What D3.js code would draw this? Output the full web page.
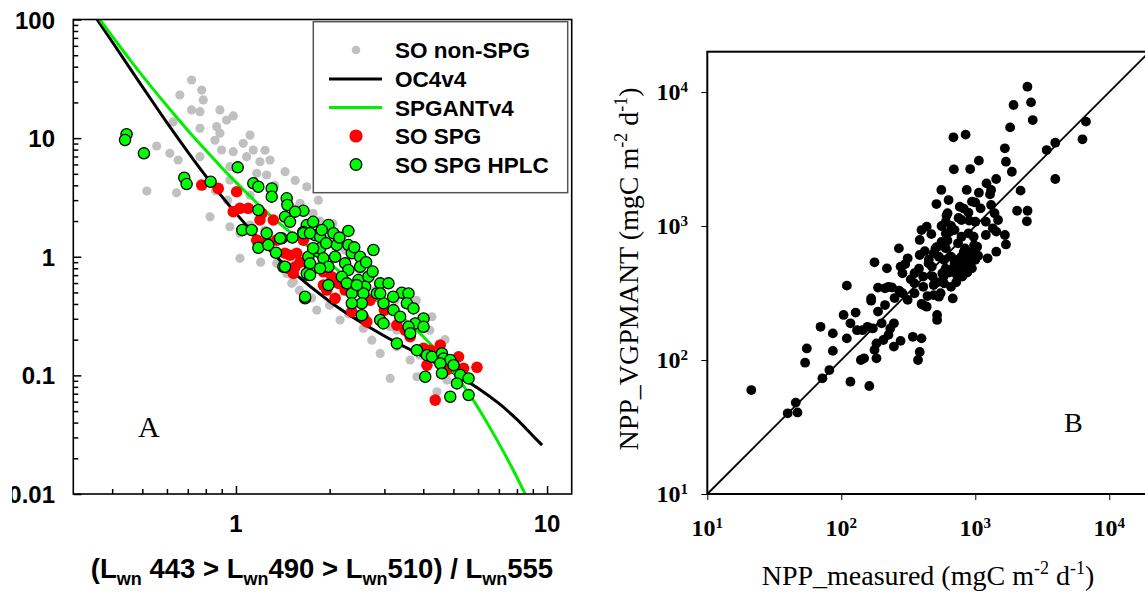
<!DOCTYPE html>
<html>
<head>
<meta charset="utf-8">
<script src="https://cdn.jsdelivr.net/npm/d3@7"></script>
<style>
body { margin: 0; background: #fff; }
svg { display: block; }
</style>
</head>
<body>
<svg id="chart" width="1145" height="595"></svg>
<script>
// ---- panel A data : band ratio vs chlorophyll ----
const soNonSpg = [
  [0.720,30.9],[0.776,25.4],[0.660,23.1],[0.785,21.0],[0.766,16.7],[0.720,17.3],[0.888,17.3],[0.980,15.4],
  [0.933,14.2],[0.867,12.5],[0.628,13.7],[0.766,12.1],[0.888,11.0],[0.556,8.58],[0.613,7.44],[0.652,6.54],
  [1.055,9.04],[1.137,7.94],[0.980,7.68],[0.899,7.94],[1.082,6.97],[1.194,6.32],[1.287,6.54],[0.766,6.97],
  [1.438,5.21],[0.956,5.74],[1.166,5.05],[1.255,4.89],[0.644,3.46],[0.825,2.17],[0.956,4.43],[1.030,1.58],
  [1.030,0.97],[0.956,1.79],[1.456,3.01],[1.607,2.82],[1.770,2.32],[1.492,2.17],[1.352,0.88],[1.456,0.724],
  [1.529,0.615],[1.689,3.89],[1.568,2.56],[1.668,1.79],[1.511,0.597],[1.819,0.355],[2.161,0.293],[2.568,0.249],
  [2.733,0.198],[2.908,0.153],[3.131,0.0943],[3.290,0.174],[3.631,0.1346],[3.816,0.0973],[4.426,0.0727],
  [4.265,0.312],[4.767,0.0913],[3.290,0.241],[3.131,0.257],[0.517,3.58],[0.856,9.6],[1.11,10.6],[1.24,7.9],
  [1.33,4.0],[1.55,4.4],[1.84,3.0],[1.86,2.0],[2.0,1.4],[2.24,1.14],[2.5,0.77],[2.8,0.52],[3.25,0.43],
  [3.8,0.43],[4.2,0.24],[4.7,0.2],[5.1,0.12],[3.9,0.148],[0.94,3.0],[0.86,3.6],[1.11,3.3],[1.11,1.85],
  [1.24,1.68],[1.2,0.9],[1.6,0.52],[2.0,0.39],[1.75,0.45],[2.3,0.33],[2.05,1.9],[2.2,1.5]
];

const soSpg = [
  [0.776,4.02],[0.877,3.77],[1.005,3.53],[0.980,2.40],[1.030,2.56],[1.095,2.56],[1.210,2.32],[1.194,2.04],
  [1.318,2.04],[1.166,1.38],[1.255,1.34],[1.352,1.38],[1.492,1.03],[1.549,0.823],[1.529,0.724],[1.647,1.38],
  [1.438,1.07],[1.568,1.07],[1.473,0.798],[1.910,0.747],[2.032,0.678],[2.135,0.597],[1.958,0.524],[2.083,0.446],
  [1.910,0.577],[2.357,0.344],[2.634,0.283],[2.568,0.312],[3.631,0.212],[4.007,0.169],[4.211,0.163],[4.110,0.122],
  [5.195,0.1435],[5.390,0.1146],[5.952,0.117],[4.370,0.0619],[4.767,0.111],[1.607,0.90],[1.796,0.80],
  [2.243,0.524],[2.70,0.43],[3.0,0.355],[3.29,0.265],[3.5,0.24],[4.536,0.18]
];

const soSpgHplc = [
  [0.445,10.8],[0.440,9.64],[0.506,7.44],[1.013,5.67],[0.682,4.64],[0.694,4.10],[0.829,4.29],[1.137,4.16],
  [1.180,3.89],[1.303,3.77],[1.303,3.21],[1.456,3.11],[1.463,2.73],[1.180,2.48],[1.647,2.44],[1.438,2.17],
  [1.492,1.97],[1.689,1.85],[1.647,1.62],[1.796,1.52],[1.048,1.68],[1.123,1.68],[1.255,1.58],[1.403,1.43],
  [1.518,1.45],[1.180,1.19],[1.270,1.255],[1.345,1.08],[1.420,0.823],[1.709,1.0],[1.730,0.823],[1.709,0.701],
  [1.668,0.446],[1.841,1.10],[1.549,2.40],[1.386,1.43],[1.647,1.58],[1.770,1.97],[1.730,1.58],[1.864,1.47],
  [1.982,1.85],[1.887,1.68],[2.057,1.58],[2.298,1.65],[2.109,1.255],[2.298,1.255],[1.864,1.18],[1.770,1.18],
  [1.910,0.97],[2.083,1.0],[2.357,1.07],[2.506,1.0],[2.766,1.14],[1.730,0.88],[1.689,0.724],[1.438,0.823],
  [1.982,0.823],[2.243,0.88],[2.298,0.773],[2.506,0.823],[1.864,0.798],[1.730,0.701],[1.982,0.577],[2.189,0.678],
  [2.271,0.597],[2.475,0.636],[2.665,0.678],[2.601,0.558],[2.908,0.597],[3.092,0.597],[2.357,0.491],[2.568,0.491],
  [2.837,0.491],[3.414,0.497],[3.586,0.491],[1.668,0.460],[2.446,0.577],[2.538,0.405],[2.357,0.405],[2.980,0.405],
  [2.908,0.491],[3.543,0.405],[3.208,0.355],[2.538,0.322],[2.908,0.293],[2.980,0.274],[3.371,0.312],[3.721,0.367],
  [4.007,0.302],[3.768,0.274],[4.007,0.257],[3.586,0.257],[3.631,0.226],[3.290,0.186],[3.816,0.163],[4.110,0.148],
  [4.265,0.1435],[4.593,0.153],[4.648,0.139],[4.885,0.1346],[5.006,0.122],[4.536,0.126],[5.260,0.1006],
  [5.594,0.0943],[4.058,0.0973],[4.593,0.104],[5.133,0.0856],[4.885,0.066],[5.594,0.0682],
  [2.15,1.45],[2.40,1.20],[2.62,0.90],[2.75,0.75],[3.20,0.46],[1.95,1.30]
];

// OC4v4 and SPGANTv4 curves, sampled along the drawn lines
const oc4Ratio = [0.356,0.4,0.5,0.6,0.7,0.8,1,1.25,1.5,2,2.5,3,4,5,6,7,8,9,9.64];
const oc4Chl   = [102,64.9,27.2,13.5,7.66,4.79,2.32,1.22,0.77,0.42,0.284,0.215,0.144,0.105,0.078,0.058,0.0426,0.031,0.0258];
const spgRatio = [0.365,0.408,0.459,0.529,0.613,0.711,0.789,0.888,0.990,1.093,1.2,1.39,2.0,2.84,3.5,4.3,5.0,5.74,6.2,6.9,7.7,8.5];
const spgChl   = [100,67.6,44.8,28.0,17.5,11.1,8.2,5.86,4.36,3.37,2.65,1.88,0.875,0.427,0.294,0.174,0.107,0.064,0.0464,0.0286,0.0168,0.01];

const ticksA_y = [100,10,1,0.1,0.01];
const ticksA_x = [1,10];

// ---- panel B data : measured vs modelled NPP ----
const nppPoints = [
  [2450,10960],[1930,8000],[2606,8375],[2685,6180],[1820,5445],[1663,3802],[1694,3020],[1875,2541],
  [3954,4188],[3412,3690],[6700,6012],[6310,4436],[3954,2244],[687,4592],[847,4808],[1064,3076],
  [692,2649],[916,2661],[1213,2080],[1432,2244],[1312,1858],[863,1858],[1064,1774],[1288,1722],
  [558,1858],[632,1563],[513,1459],[944,1521],[766,1393],[1312,1435],[2178,1837],[2051,1300],
  [2455,1300],[2427,1084],[1096,1355],[889,1259],[1393,1245],[789,1109],[621,1245],[603,1077],
  [434,989],[397,933],[1002,1077],[1199,1077],[1479,1109],[1352,961],[1199,857],[1435,908],
  [1663,857],[1694,729],[1435,643],[1236,574],[603,881],[700,933],[789,832],[889,881],
  [973,832],[743,743],[838,681],[1033,701],[385,787],[504,681],[603,681],[659,590],
  [789,590],[889,557],[944,483],[789,498],[743,470],[489,625],[448,526],[535,590],
  [585,557],[269,681],[313,574],[385,608],[474,498],[177,536],[219,483],[277,498],
  [286,444],[352,444],[409,419],[110,359],[188,347],[225,352],[239,348],[167,288],
  [286,315],[352,373],[568,444],[585,373],[489,363],[659,352],[551,315],[212,343],
  [167,277],[313,281],[409,352],[352,315],[397,262],[434,250],[489,305],[535,297],
  [679,288],[188,230],[212,257],[104,217],[128,226],[131,167],[157,177],[117,188],
  [110,145],[172,172],[200,188],[232,172],[247,188],[225,154],[206,141],[247,126],
  [277,139],[342,149],[397,145],[385,115],[374,100],[519,217],[519,199],[409,257],
  [70,177],[86.5,158],[86.5,117],[81.5,84.1],[72.3,73.0],[117,68.9],[55.3,122],[53.7,95.5],
  [45.7,48.1],[39.8,40.0],[47.1,40.6],[21.3,59.7],[162,64.0],[148,103],[177,119],[183,103],
  [140,100],[183,133],[144,167],
  [450,560],[520,700],[600,480],[420,650],[700,560],[560,760],[640,900],[480,420],
  [380,480],[330,400],[300,520],[250,290],[270,330],[660,1000],[750,1150],[900,1100],
  [820,1350],[1000,1500],[560,1000],[470,870],[620,780],[440,300],[520,380],[580,420],
  [610,1200],[720,380],[900,640],
  [850,520],[900,600],[700,520],[760,560],[820,640],[680,480],[950,650],[1000,560],
  [870,450],[730,430],[640,450],[800,420],[920,520],[980,720],[1050,600]
];
const ticksB = [10,100,1000,10000];

// ---------------------------------------------------------------
const svg = d3.select("#chart");
const sans = "'Liberation Sans', Arial, Helvetica, sans-serif";
const serif = "'Liberation Serif', 'Times New Roman', Times, serif";

// ===== panel A =====
const A = {left: 73.3, right: 571.7, top: 19.5, bottom: 494};
const xA = d3.scaleLog().domain([0.3, 12]).range([A.left, A.right]);
const yA = d3.scaleLog().domain([0.01, 100]).range([A.bottom, A.top]);

svg.append("clipPath").attr("id", "clipA")
  .append("rect").attr("x", A.left).attr("y", A.top)
  .attr("width", A.right - A.left).attr("height", A.bottom - A.top);

const gA = svg.append("g");
const plotA = gA.append("g").attr("clip-path", "url(#clipA)");

plotA.selectAll("circle.non")
  .data(soNonSpg).enter().append("circle")
  .attr("class", "non")
  .attr("cx", d => xA(d[0])).attr("cy", d => yA(d[1]))
  .attr("r", 4.6).attr("fill", "#c0c0c0");

const lineA = d3.line().x(d => xA(d[0])).y(d => yA(d[1])).curve(d3.curveCatmullRom);
plotA.append("path")
  .datum(oc4Ratio.map((r, i) => [r, oc4Chl[i]]))
  .attr("d", lineA).attr("fill", "none").attr("stroke", "#000").attr("stroke-width", 3);
plotA.append("path")
  .datum(spgRatio.map((r, i) => [r, spgChl[i]]))
  .attr("d", lineA).attr("fill", "none").attr("stroke", "#00ee00").attr("stroke-width", 3);

plotA.selectAll("circle.spg")
  .data(soSpg).enter().append("circle")
  .attr("class", "spg")
  .attr("cx", d => xA(d[0])).attr("cy", d => yA(d[1]))
  .attr("r", 5.8).attr("fill", "#ff0000");

plotA.selectAll("circle.hplc")
  .data(soSpgHplc).enter().append("circle")
  .attr("class", "hplc")
  .attr("cx", d => xA(d[0])).attr("cy", d => yA(d[1]))
  .attr("r", 5.6).attr("fill", "#00ff00").attr("stroke", "#000").attr("stroke-width", 1.3);

// frame
gA.append("rect").attr("x", A.left).attr("y", A.top)
  .attr("width", A.right - A.left).attr("height", A.bottom - A.top)
  .attr("fill", "none").attr("stroke", "#000").attr("stroke-width", 1.6);

// inward ticks
const axA_y = d3.axisRight(yA).tickValues(yA.ticks()).tickSize(5).tickFormat("");
const gy = gA.append("g").attr("transform", `translate(${A.left},0)`).call(axA_y);
gy.select(".domain").remove();
gy.selectAll(".tick line").attr("stroke-width", 1.5)
  .attr("x2", d => ticksA_y.includes(d) ? 8 : 5);

const axA_x = d3.axisTop(xA).tickValues(xA.ticks().filter(v => v >= 0.4)).tickSize(5).tickFormat("");
const gx = gA.append("g").attr("transform", `translate(0,${A.bottom})`).call(axA_x);
gx.select(".domain").remove();
gx.selectAll(".tick line").attr("stroke-width", 1.5)
  .attr("y2", d => ticksA_x.includes(d) ? -8 : -5);

// tick labels
svg.append("clipPath").attr("id", "clipLab")
  .append("rect").attr("x", 12).attr("y", 0).attr("width", 200).attr("height", 595);
gA.append("g").attr("clip-path", "url(#clipLab)")
  .selectAll("text").data(ticksA_y).enter().append("text")
  .attr("x", 55).attr("y", d => yA(d) + 9)
  .attr("text-anchor", "end").attr("font-family", sans).attr("font-weight", "bold")
  .attr("font-size", 24).text(d => d);

gA.selectAll("text.xl").data(ticksA_x).enter().append("text")
  .attr("class", "xl")
  .attr("x", d => xA(d)).attr("y", 532)
  .attr("text-anchor", "middle").attr("font-family", sans).attr("font-weight", "bold")
  .attr("font-size", 24).text(d => d);

// x title with subscripts
const tA = gA.append("text").attr("x", 322).attr("y", 578)
  .attr("text-anchor", "middle").attr("font-family", sans).attr("font-weight", "bold")
  .attr("font-size", 27.5);
const titleParts = [["(L", 0], ["wn", 1], [" 443 > L", 0], ["wn", 1], ["490 > L", 0], ["wn", 1], ["510) / L", 0], ["wn", 1], ["555", 0]];
let low = false;
titleParts.forEach(([s, sub]) => {
  const ts = tA.append("tspan").text(s);
  if (sub) { ts.attr("font-size", 18).attr("dy", 7); low = true; }
  else if (low) { ts.attr("dy", -7); low = false; }
});

gA.append("text").attr("x", 138).attr("y", 437)
  .attr("font-family", serif).attr("font-size", 30).text("A");

// legend
const leg = gA.append("g");
leg.append("rect").attr("x", 313.3).attr("y", 21.7).attr("width", 254.4).attr("height", 171)
  .attr("fill", "#fff").attr("stroke", "#555").attr("stroke-width", 1.5);
const legendItems = [
  {label: "SO non-SPG", kind: "dot", fill: "#c0c0c0", r: 4.3},
  {label: "OC4v4", kind: "line", stroke: "#000"},
  {label: "SPGANTv4", kind: "line", stroke: "#00ee00"},
  {label: "SO SPG", kind: "dot", fill: "#ff0000", r: 6.6},
  {label: "SO SPG HPLC", kind: "dot", fill: "#00ff00", r: 5.8, stroke: "#000"}
];
const legRows = [50, 79, 107.5, 136, 164.5];
legendItems.forEach((it, i) => {
  const y = legRows[i];
  if (it.kind === "line") {
    leg.append("line").attr("x1", 329).attr("x2", 382).attr("y1", y).attr("y2", y)
      .attr("stroke", it.stroke).attr("stroke-width", 3);
  } else {
    leg.append("circle").attr("cx", 356).attr("cy", y).attr("r", it.r)
      .attr("fill", it.fill).attr("stroke", it.stroke || "none").attr("stroke-width", 1.3);
  }
  leg.append("text").attr("x", 395).attr("y", y + 8)
    .attr("font-family", sans).attr("font-weight", "bold").attr("font-size", 22.5).text(it.label);
});

// ===== panel B =====
const B = {left: 707.3, right: 1149.6, top: 51.7, bottom: 494};
const xB = d3.scaleLog().domain([10, 20000]).range([B.left, B.right]);
const yB = d3.scaleLog().domain([10, 20000]).range([B.bottom, B.top]);
const gB = svg.append("g");

gB.append("line")
  .attr("x1", xB(10)).attr("y1", yB(10)).attr("x2", xB(20000)).attr("y2", yB(20000))
  .attr("stroke", "#000").attr("stroke-width", 1.8);

gB.selectAll("circle").data(nppPoints).enter().append("circle")
  .attr("cx", d => xB(d[0])).attr("cy", d => yB(d[1]))
  .attr("r", 4.9).attr("fill", "#000");

gB.append("rect").attr("x", B.left).attr("y", B.top)
  .attr("width", B.right - B.left).attr("height", B.bottom - B.top)
  .attr("fill", "none").attr("stroke", "#000").attr("stroke-width", 2);

const gBx = gB.append("g").attr("transform", `translate(0,${B.bottom})`)
  .call(d3.axisBottom(xB).tickValues(ticksB).tickSize(6).tickFormat(""));
gBx.select(".domain").remove();
const gBy = gB.append("g").attr("transform", `translate(${B.left},0)`)
  .call(d3.axisLeft(yB).tickValues(ticksB).tickSize(6).tickFormat(""));
gBy.select(".domain").remove();

function powLabel(sel) {
  sel.attr("font-family", serif).attr("font-weight", "bold").attr("font-size", 24);
  sel.append("tspan").text("10");
  sel.append("tspan").attr("font-size", 15).attr("dy", -8).text(d => Math.round(Math.log10(d)));
}
gB.selectAll("text.bx").data(ticksB).enter().append("text")
  .attr("class", "bx").attr("x", d => xB(d)).attr("y", 536).attr("text-anchor", "middle")
  .call(powLabel);
gB.selectAll("text.by").data(ticksB).enter().append("text")
  .attr("class", "by").attr("x", 688).attr("y", d => yB(d) + 8).attr("text-anchor", "end")
  .call(powLabel);

function unitTitle(sel, name) {
  sel.attr("font-family", serif).attr("font-size", 28);
  sel.append("tspan").text(name + " (mgC m");
  sel.append("tspan").attr("font-size", 18).attr("dy", -11).text("-2");
  sel.append("tspan").attr("dy", 11).text(" d");
  sel.append("tspan").attr("font-size", 18).attr("dy", -11).text("-1");
  sel.append("tspan").attr("dy", 11).text(")");
}
gB.append("text").attr("x", 928).attr("y", 585).attr("text-anchor", "middle")
  .call(unitTitle, "NPP_measured");
gB.append("text").attr("text-anchor", "middle")
  .attr("transform", "translate(638,269) rotate(-90)")
  .call(unitTitle, "NPP_VGPMANT");

gB.append("text").attr("x", 1064).attr("y", 432)
  .attr("font-family", serif).attr("font-size", 28).text("B");
</script>
</body>
</html>
